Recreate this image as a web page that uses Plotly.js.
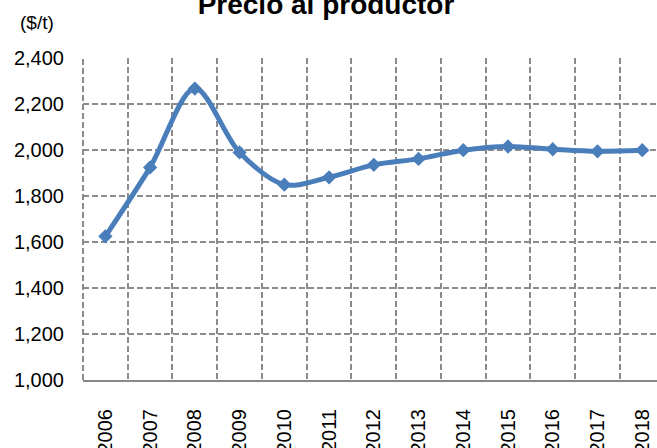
<!DOCTYPE html>
<html>
<head>
<meta charset="utf-8">
<script src="https://cdn.plot.ly/plotly-3.0.1.min.js"></script>
<style>
  html, body { margin: 0; padding: 0; background: #fff; }
  #chart { width: 657px; height: 448px; }
</style>
</head>
<body>
<div id="chart"></div>
<script>
// data
const years = ['2006', '2007', '2008', '2009', '2010', '2011', '2012',
               '2013', '2014', '2015', '2016', '2017', '2018'];
const price = [1625, 1925, 2268, 1990, 1850, 1882, 1936,
               1962, 2000, 2016, 2004, 1995, 2000];
const yTicks = [1000, 1200, 1400, 1600, 1800, 2000, 2200, 2400];
const yTickText = ['1,000', '1,200', '1,400', '1,600', '1,800', '2,000', '2,200', '2,400'];

const lineColor = '#4a7ebb';
const gridColor = '#8c8c8c';
const font = 'Liberation Sans, Arial, sans-serif';

var data = [{
    x: years,
    y: price,
    type: 'scatter',
    mode: 'lines+markers',
    line: { color: lineColor, width: 5, shape: 'spline', smoothing: 0.9 },
    marker: { symbol: 'diamond', size: 11, color: lineColor },
    cliponaxis: false,
    hoverinfo: 'skip'
}];

var layout = {
    width: 657,
    height: 448,
    margin: { l: 83, r: 0, t: 58, b: 68 },
    paper_bgcolor: '#ffffff',
    plot_bgcolor: '#ffffff',
    showlegend: false,
    font: { family: font, size: 20, color: '#000000' },
    title: {
        text: '<b>Precio al productor</b>',
        font: { family: font, size: 28, color: '#000000' },
        x: 326 / 657, xref: 'container', xanchor: 'center',
        y: 1 - 4 / 448, yref: 'container', yanchor: 'middle'
    },
    xaxis: {
        type: 'category',
        range: [-0.5, 12.33],
        tickson: 'boundaries',
        tickangle: -90,
        ticks: '',
        ticklabelstandoff: 19,
        showgrid: true,
        gridcolor: gridColor,
        gridwidth: 2,
        griddash: '6px,3px',
        showline: true,
        linecolor: '#888888',
        linewidth: 2,
        zeroline: false,
        fixedrange: true
    },
    yaxis: {
        range: [1000, 2401],
        tickvals: yTicks,
        ticktext: yTickText,
        ticks: '',
        ticklabelstandoff: 18,
        showgrid: true,
        gridcolor: gridColor,
        gridwidth: 2,
        griddash: '6px,3px',
        showline: false,
        zeroline: false,
        fixedrange: true
    },
    // dashed left edge of the plot area (first category boundary)
    shapes: [{
        type: 'line', layer: 'below',
        xref: 'paper', yref: 'paper',
        x0: 0, x1: 0, y0: 0, y1: 1,
        line: { color: gridColor, width: 2, dash: '6px,3px' }
    }],
    annotations: [{
        text: '($/t)',
        xref: 'paper', yref: 'paper',
        x: -83 / 574 + 37 / 574, xanchor: 'center',
        y: 1 + 35 / 322, yanchor: 'middle',
        showarrow: false,
        font: { family: font, size: 19, color: '#000000' }
    }]
};

Plotly.newPlot('chart', data, layout, { displayModeBar: false, staticPlot: true });
</script>
</body>
</html>
